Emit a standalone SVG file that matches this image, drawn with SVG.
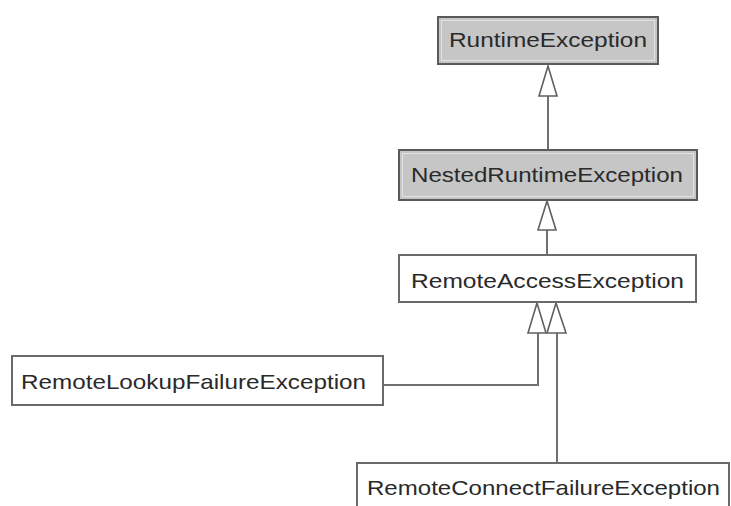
<svg xmlns="http://www.w3.org/2000/svg" width="731" height="506" viewBox="0 0 731 506">
<defs>
<style>
.box{stroke:#5a5a5a;stroke-width:2}
.abstract{fill:#c6c6c6}
.plain{fill:#ffffff;stroke:#6a6a6a}
.inner{fill:none;stroke:#e2e2e2;stroke-width:1}
.lbl{font-family:"Liberation Sans",Arial,sans-serif;font-size:21px;fill:#2a2a2a;text-anchor:middle}
.edge{fill:none;stroke:#707070;stroke-width:2}
.tri{fill:#ffffff;stroke:#606060;stroke-width:1.6;stroke-linejoin:miter}
</style>
</defs>
<rect width="731" height="506" fill="#ffffff"/>
<g id="connectors">
<line class="edge" x1="548" y1="96" x2="548" y2="150"/>
<polygon class="tri" points="548,66 539,96 557,96"/>
<line class="edge" x1="547" y1="230" x2="547" y2="255"/>
<polygon class="tri" points="547,201 538,230 556,230"/>
<polyline class="edge" points="383,385 538,385 538,333"/>
<polygon class="tri" points="537,303 528,333 546,333"/>
<line class="edge" x1="557" y1="333" x2="557" y2="463"/>
<polygon class="tri" points="556,303 547,333 566,333"/>
</g>
<g id="RuntimeException">
<rect class="box abstract" x="438" y="17" width="220" height="47"/>
<rect class="inner" x="441.5" y="20.5" width="213" height="40"/>
<text class="lbl" x="548" y="47" textLength="198" lengthAdjust="spacingAndGlyphs">RuntimeException</text>
</g>
<g id="NestedRuntimeException">
<rect class="box abstract" x="399" y="150" width="298" height="50"/>
<rect class="inner" x="402.5" y="153.5" width="291" height="43"/>
<text class="lbl" x="547" y="182" textLength="272" lengthAdjust="spacingAndGlyphs">NestedRuntimeException</text>
</g>
<g id="RemoteAccessException">
<rect class="box plain" x="399" y="255" width="297" height="47"/>
<text class="lbl" x="547.5" y="288" textLength="273" lengthAdjust="spacingAndGlyphs">RemoteAccessException</text>
</g>
<g id="RemoteLookupFailureException">
<rect class="box plain" x="12" y="356" width="371" height="49"/>
<text class="lbl" x="193.5" y="389" textLength="345" lengthAdjust="spacingAndGlyphs">RemoteLookupFailureException</text>
</g>
<g id="RemoteConnectFailureException">
<rect class="box plain" x="357" y="463" width="372" height="52"/>
<text class="lbl" x="543.5" y="495" textLength="353" lengthAdjust="spacingAndGlyphs">RemoteConnectFailureException</text>
</g>
</svg>
